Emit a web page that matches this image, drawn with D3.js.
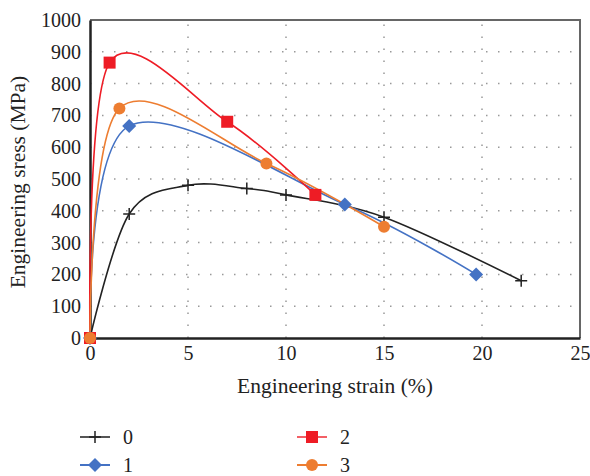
<!DOCTYPE html>
<html>
<head>
  <meta charset="utf-8">
  <style type="text/css">
    body { margin: 0; background: #fff; }
  </style>
</head>
<body>
<script src="https://d3js.org/d3.v7.min.js"></script>
<script>
  //----------------------------------------------------------------------------
  var seriesNames = ["0", "1", "2", "3"];

  var strain0 = [0, 2, 5, 8, 10, 15, 22];
  var stress0 = [0, 390, 480, 470, 450, 380, 180];

  var strain1 = [0, 2, 13, 19.7];
  var stress1 = [0, 667, 420, 200];

  var strain2 = [0, 1, 7, 11.5];
  var stress2 = [0, 866, 680, 450];

  var strain3 = [0, 1.5, 9, 15];
  var stress3 = [0, 722, 549, 350];

  var xTicks = [0, 5, 10, 15, 20, 25];
  var yTicks = [0, 100, 200, 300, 400, 500, 600, 700, 800, 900, 1000];

  var colors = ["#222222", "#4472c4", "#ee1c25", "#ed7d31"];
  var markers = ["plus", "diamond", "square", "circle"];

  var serif = "Liberation Serif";

  var width = 590;
  var height = 476;
  var margin = { left: 90, top: 20, right: 10, bottom: 138 };
  var plotW = width - margin.left - margin.right;
  var plotH = height - margin.top - margin.bottom;

  var series = [
    { name: seriesNames[0], x: strain0, y: stress0 },
    { name: seriesNames[1], x: strain1, y: stress1 },
    { name: seriesNames[2], x: strain2, y: stress2 },
    { name: seriesNames[3], x: strain3, y: stress3 }
  ];
  series.forEach(function(s, i) {
    s.points = s.x.map(function(v, j) { return [v, s.y[j]]; });
    s.color = colors[i];
    s.marker = markers[i];
  });

  var x = d3.scaleLinear().domain([0, 25]).range([0, plotW]);
  var y = d3.scaleLinear().domain([0, 1000]).range([plotH, 0]);

  var svg = d3.select("body").append("svg")
      .attr("width", width)
      .attr("height", height)
      .attr("font-family", serif);

  var g = svg.append("g")
      .attr("transform", "translate(" + margin.left + "," + margin.top + ")");

  // dotted grid
  g.append("g").selectAll("line")
    .data(yTicks.slice(1, -1))
    .enter().append("line")
      .attr("x1", 0).attr("x2", plotW)
      .attr("y1", function(d) { return y(d); })
      .attr("y2", function(d) { return y(d); })
      .attr("stroke", "#999").attr("stroke-width", 1.5)
      .attr("stroke-dasharray", "1.5,10.5");

  g.append("g").selectAll("line")
    .data(xTicks.slice(1, -1))
    .enter().append("line")
      .attr("x1", function(d) { return x(d); })
      .attr("x2", function(d) { return x(d); })
      .attr("y1", plotH).attr("y2", 0)
      .attr("stroke", "#999").attr("stroke-width", 1.5)
      .attr("stroke-dasharray", "1.5,10.5");

  // top and right border
  g.append("path")
    .attr("d", "M0,0H" + plotW + "V" + plotH)
    .attr("fill", "none")
    .attr("stroke", "#666")
    .attr("stroke-width", 2);

  // axes
  var xAxis = g.append("g")
      .attr("transform", "translate(0," + plotH + ")")
      .call(d3.axisBottom(x).tickValues(xTicks).tickFormat(d3.format("d"))
        .tickSize(0).tickPadding(8));
  xAxis.select(".domain").attr("stroke", "#222").attr("stroke-width", 2.5);

  var yAxis = g.append("g")
      .call(d3.axisLeft(y).tickValues(yTicks).tickFormat(d3.format("d"))
        .tickSize(0).tickPadding(9));
  yAxis.select(".domain").attr("stroke", "#222").attr("stroke-width", 2.5);

  xAxis.attr("font-family", serif).attr("font-size", 20);
  yAxis.attr("font-family", serif).attr("font-size", 20);
  g.selectAll(".tick text").attr("fill", "#222");

  // lines (Excel-style smoothing)
  var line = d3.line()
    .x(function(d) { return x(d[0]); })
    .y(function(d) { return y(d[1]); })
    .curve(d3.curveCatmullRom.alpha(0));

  g.selectAll(".series")
    .data(series)
    .enter().append("path")
      .attr("class", "series")
      .attr("d", function(d) { return line(d.points); })
      .attr("fill", "none")
      .attr("stroke", function(d) { return d.color; })
      .attr("stroke-width", 1.6);

  function drawMarker(sel, type, color) {
    if (type === "plus") {
      sel.append("path").attr("d", "M-6,0H6M0,-6V6")
        .attr("stroke", color).attr("stroke-width", 1.5);
    } else if (type === "diamond") {
      sel.append("path").attr("d", "M0,-7L7,0L0,7L-7,0Z").attr("fill", color);
    } else if (type === "square") {
      sel.append("rect").attr("x", -6).attr("y", -6)
        .attr("width", 12).attr("height", 12).attr("fill", color);
    } else {
      sel.append("circle").attr("r", 6).attr("fill", color);
    }
  }

  series.forEach(function(s) {
    g.append("g").selectAll("g")
      .data(s.points)
      .enter().append("g")
        .attr("transform", function(d) { return "translate(" + x(d[0]) + "," + y(d[1]) + ")"; })
        .each(function() { drawMarker(d3.select(this), s.marker, s.color); });
  });

  // axis labels
  svg.append("text")
    .attr("x", margin.left + plotW / 2)
    .attr("y", 393)
    .attr("text-anchor", "middle")
    .attr("fill", "#222")
    .attr("font-size", 21.5)
    .text("Engineering strain (%)");

  svg.append("text")
    .attr("transform", "translate(25," + (margin.top + plotH / 2 + 3) + ") rotate(-90)")
    .attr("text-anchor", "middle")
    .attr("fill", "#222")
    .attr("font-size", 21.5)
    .text("Engineering sress (MPa)");

  // legend
  var legendPos = [[80, 437], [80, 465], [297, 437], [297, 465]];
  var legend = svg.selectAll(".legend")
    .data(series)
    .enter().append("g")
      .attr("class", "legend")
      .attr("transform", function(d, i) { return "translate(" + legendPos[i][0] + "," + legendPos[i][1] + ")"; });

  legend.append("line")
    .attr("x1", 0).attr("x2", 30)
    .attr("stroke", function(d, i) { return i === 0 ? "#555" : d.color; })
    .attr("stroke-opacity", function(d, i) { return i === 2 ? 0.7 : 1; })
    .attr("stroke-width", 2);

  legend.each(function(d) {
    var m = d3.select(this).append("g").attr("transform", "translate(15,0)");
    drawMarker(m, d.marker, d.color);
  });

  legend.append("text")
    .attr("x", 43)
    .attr("dy", "0.35em")
    .attr("fill", "#222")
    .attr("font-size", 20)
    .text(function(d) { return d.name; });
  //----------------------------------------------------------------------------
</script>
</body>
</html>
